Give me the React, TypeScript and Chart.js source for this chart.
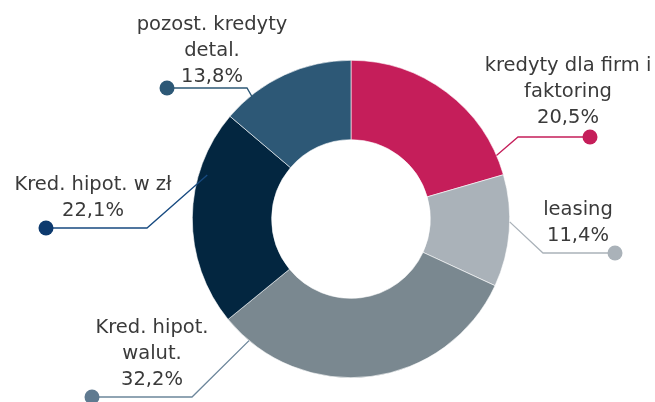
import React, { useEffect, useRef } from "react";
import { Chart, registerables } from "chart.js";

Chart.register(...registerables);

// ---- data ----
const categories = [
  "kredyty dla firm i faktoring",
  "leasing",
  "Kred. hipot. walut.",
  "Kred. hipot. w zł",
  "pozost. kredyty detal.",
];
const values = [20.5, 11.4, 32.2, 22.1, 13.8];
const valueLabels = ["20,5%", "11,4%", "32,2%", "22,1%", "13,8%"];
const labelLines = [
  ["kredyty dla firm i", "faktoring", valueLabels[0]],
  ["leasing", valueLabels[1]],
  ["Kred. hipot.", "walut.", valueLabels[2]],
  ["Kred. hipot. w zł", valueLabels[3]],
  ["pozost. kredyty", "detal.", valueLabels[4]],
];

// ---- styles ----
const sliceColors = ["#C51E5A", "#AAB2B9", "#7A8890", "#032640", "#2D5876"];
const lineColors = ["#C51E5A", "#AAB2B9", "#6C869B", "#174A80", "#2D5876"];
const dotColors = ["#C51E5A", "#AAB2B9", "#5F7A90", "#0D3A6E", "#2D5876"];

// ---- label layout (relative to chart center) ----
const anchorFrac = [0.9, 0.42, 0.907, 0.707, 0.215];
const anchorRad = [1.0, 1.0, 1.0, 0.947, 0.99];
const elbowPos = [
  [167, -82],
  [192, 34],
  [-159, 178],
  [-204, 9],
  [-104, -131],
];
const dotPos = [
  [239, -82],
  [264, 34],
  [-259, 178],
  [-305, 9],
  [-184, -131],
];
const textPos = [
  [217, -153],
  [227, -9],
  [-199, 109],
  [-258, -34],
  [-139, -194],
];
const LINE_H = 26;
const FONT = '19.5px "DejaVu Sans", "Open Sans", sans-serif';

const leaderPlugin = {
  id: "leaders",
  afterDatasetsDraw(chart: any) {
    const ctx = chart.ctx;
    const meta = chart.getDatasetMeta(0);
    meta.data.forEach((arc: any, i: number) => {
      const p = arc.getProps(["x", "y", "startAngle", "endAngle", "outerRadius"], true);
      const cx = p.x;
      const cy = p.y;
      const a = p.startAngle + anchorFrac[i] * (p.endAngle - p.startAngle);
      const r = p.outerRadius * anchorRad[i];
      const sx = cx + Math.cos(a) * r;
      const sy = cy + Math.sin(a) * r;
      ctx.save();
      ctx.strokeStyle = lineColors[i];
      ctx.lineWidth = 1.3;
      ctx.beginPath();
      ctx.moveTo(sx, sy);
      ctx.lineTo(cx + elbowPos[i][0], cy + elbowPos[i][1]);
      ctx.lineTo(cx + dotPos[i][0], cy + dotPos[i][1]);
      ctx.stroke();
      ctx.fillStyle = dotColors[i];
      ctx.beginPath();
      ctx.arc(cx + dotPos[i][0], cy + dotPos[i][1], 7.5, 0, Math.PI * 2);
      ctx.fill();
      ctx.fillStyle = "#3A3A3A";
      ctx.font = FONT;
      ctx.textAlign = "center";
      ctx.textBaseline = "middle";
      const lines = labelLines[i];
      lines.forEach((t, k) => {
        ctx.fillText(t, cx + textPos[i][0], cy + textPos[i][1] + k * LINE_H);
      });
      ctx.restore();
    });
  },
};

export default function App() {
  const ref = useRef<HTMLCanvasElement | null>(null);
  useEffect(() => {
    if (!ref.current) return;
    const chart = new Chart(ref.current, {
      type: "doughnut",
      data: {
        labels: categories,
        datasets: [
          {
            data: values,
            backgroundColor: sliceColors,
            borderColor: "#FFFFFF",
            borderWidth: 0.6,
          },
        ],
      },
      options: {
        animation: false,
        responsive: false,
        maintainAspectRatio: false,
        cutout: "50%",
        layout: { padding: { left: 192, right: 145, top: 60, bottom: 24 } },
        plugins: {
          legend: { display: false },
          tooltip: { enabled: false },
        },
      },
      plugins: [leaderPlugin],
    });
    return () => chart.destroy();
  }, []);
  return (
    <div style={{ position: "fixed", left: 0, top: 0, width: 655, height: 402, background: "#fff" }}>
      <canvas ref={ref} width={655} height={402} style={{ display: "block", width: 655, height: 402 }} />
    </div>
  );
}
